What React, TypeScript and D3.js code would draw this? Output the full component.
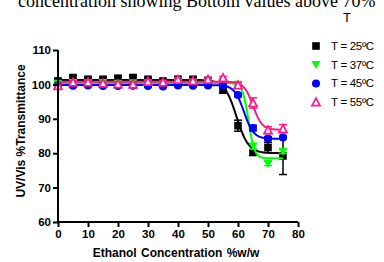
import React, { useRef, useEffect } from "react";
import * as d3 from "d3";

// ethanol concentration (%w/w)
const concentrations = [0, 5, 10, 15, 20, 25, 30, 35, 40, 45, 50, 55, 60, 65, 70, 75];

// measured % transmittance per temperature
const t25 = [101, 102, 101.5, 101.5, 101.8, 102, 101.5, 101, 101.5, 101.5, 101.2, 98.3, 88, 80.2, 81.7, 79.2];
const t25err = [0.5, 0.5, 0.4, 0.4, 0.5, 0.6, 0.4, 0.4, 0.5, 0.5, 0.4, 0.6, 1.6, 0.8, 1.5, 5.4];
const t37 = [100.3, 100.5, 100.4, 100.5, 100.3, 100.4, 100.5, 100.3, 100.6, 100.4, 100.5, 100.5, 100, 82, 77, 80.5];
const t37err = [0.3, 0.3, 0.3, 0.3, 0.3, 0.3, 0.3, 0.3, 0.3, 0.3, 0.3, 0.3, 0.5, 0.8, 0.6, 0.6];
const t45 = [99.8, 99.6, 99.7, 99.5, 99.5, 99.6, 99.5, 99.4, 99.7, 99.6, 99.7, 99.7, 96.9, 87.3, 84.3, 84.6];
const t45err = [0.3, 0.3, 0.3, 0.3, 0.3, 0.3, 0.3, 0.3, 0.3, 0.3, 0.3, 0.3, 0.5, 0.8, 0.5, 0.4];
const t55 = [99.6, 100.6, 100.6, 100.3, 100.1, 100, 100.8, 100.6, 101.4, 101, 101.4, 101.9, 99.8, 94.6, 86.7, 87.1];
const t55err = [0.4, 0.5, 0.5, 0.5, 0.5, 0.5, 0.5, 0.5, 0.5, 0.5, 0.5, 0.4, 0.8, 1.5, 1, 1.2];

// sigmoidal fit parameters: top, bottom, midpoint, slope
const fitTop = [101.3, 100.4, 99.8, 100.8];
const fitBottom = [80, 78.5, 84.2, 86.8];
const fitMid = [59.5, 63.5, 62, 65];
const fitSlope = [2, 1, 1.6, 1.5];

const legendLabels = ["T = 25ºC", "T = 37ºC", "T = 45ºC", "T = 55ºC"];
const xTicks = [0, 10, 20, 30, 40, 50, 60, 70, 80];
const yTicks = [60, 70, 80, 90, 100, 110];

const colors = ["#000000", "#00ff00", "#0000ff", "#ff1a8c"];
const symbols = ["square", "down", "circle", "up"];

const App = () => {
  const svgRef = useRef<SVGSVGElement>(null);

  useEffect(() => {
    const svg = d3.select(svgRef.current);
    svg.selectAll("*").remove();

    const x = d3.scaleLinear().domain([0, 80]).range([58, 298]);
    const y = d3.scaleLinear().domain([60, 110]).range([222, 50]);

    const font = "Arial, 'Liberation Sans', sans-serif";

    // caption cut off at the top
    svg.append("text")
      .attr("x", 18).attr("y", 7)
      .attr("font-family", "'Liberation Serif', 'Times New Roman', serif")
      .attr("font-size", 18)
      .text("concentration showing Bottom values above 70%");

    const series = [
      { vals: t25, err: t25err },
      { vals: t37, err: t37err },
      { vals: t45, err: t45err },
      { vals: t55, err: t55err },
    ];

    const drawMarker = (g: any, kind: string, cx: number, cy: number, color: string) => {
      if (kind === "square") {
        g.append("rect").attr("x", cx - 3.8).attr("y", cy - 3.8).attr("width", 7.6).attr("height", 7.6).attr("fill", color);
      } else if (kind === "circle") {
        g.append("circle").attr("cx", cx).attr("cy", cy).attr("r", 4).attr("fill", color);
      } else if (kind === "down") {
        g.append("path").attr("d", `M${cx - 4.5},${cy - 3.7}L${cx + 4.5},${cy - 3.7}L${cx},${cy + 4.3}Z`).attr("fill", color);
      } else {
        g.append("path").attr("d", `M${cx - 4},${cy + 3.5}L${cx + 4},${cy + 3.5}L${cx},${cy - 4}Z`)
          .attr("fill", "white").attr("stroke", color).attr("stroke-width", 1.7);
      }
    };

    const line = d3.line<number>().x((d) => x(d[0])).y((d) => y(d[1]));
    const fineX = d3.range(0, 75.01, 0.25);

    series.forEach((s, i) => {
      const g = svg.append("g");
      // fitted curve
      const curve = fineX.map((c) => [
        c,
        fitBottom[i] + (fitTop[i] - fitBottom[i]) / (1 + Math.exp((c - fitMid[i]) / fitSlope[i])),
      ]);
      g.append("path")
        .attr("d", line(curve as any))
        .attr("fill", "none")
        .attr("stroke", colors[i])
        .attr("stroke-width", 2);

      // error bars
      concentrations.forEach((c, j) => {
        const cx = x(c);
        const y1 = y(s.vals[j] - s.err[j]);
        const y2 = y(s.vals[j] + s.err[j]);
        g.append("line").attr("x1", cx).attr("x2", cx).attr("y1", y1).attr("y2", y2)
          .attr("stroke", colors[i]).attr("stroke-width", 1.5);
        [y1, y2].forEach((yy) => {
          g.append("line").attr("x1", cx - 4).attr("x2", cx + 4).attr("y1", yy).attr("y2", yy)
            .attr("stroke", colors[i]).attr("stroke-width", 1.5);
        });
      });

      concentrations.forEach((c, j) => drawMarker(g, symbols[i], x(c), y(s.vals[j]), colors[i]));
    });

    // axes
    const xAxis = svg.append("g")
      .attr("transform", "translate(0,222)")
      .call(d3.axisBottom(x).tickValues(xTicks).tickSize(5).tickPadding(3));
    const yAxis = svg.append("g")
      .attr("transform", "translate(58,0)")
      .call(d3.axisLeft(y).tickValues(yTicks).tickSize(5).tickPadding(2));
    [xAxis, yAxis].forEach((a) => {
      a.select(".domain").attr("stroke-width", 2).attr("stroke", "#000");
      a.selectAll(".tick line").attr("stroke-width", 2).attr("stroke", "#000");
      a.selectAll(".tick text")
        .attr("font-family", font).attr("font-size", 11.5).attr("font-weight", "bold").attr("fill", "#000");
    });
    xAxis.select(".domain").attr("d", `M${x(0)},0H${x(80)}`);
    yAxis.select(".domain").attr("d", `M0,${y(60)}V${y(110)}`);

    svg.append("text")
      .attr("x", 176).attr("y", 257)
      .attr("text-anchor", "middle")
      .attr("font-family", font).attr("font-size", 12).attr("font-weight", "bold")
      .attr("word-spacing", 1)
      .text("Ethanol Concentration %w/w");

    svg.append("text")
      .attr("transform", "translate(25,131) rotate(-90)")
      .attr("text-anchor", "middle")
      .attr("font-family", font).attr("font-size", 12).attr("font-weight", "bold")
      .text("UV/Vis %Transmittance");

    // legend
    svg.append("text")
      .attr("x", 347).attr("y", 22)
      .attr("text-anchor", "middle")
      .attr("font-family", font).attr("font-size", 13)
      .text("T");
    legendLabels.forEach((lab, i) => {
      const ly = 46 + i * 18.7;
      const g = svg.append("g");
      drawMarker(g, symbols[i], 316, ly, colors[i]);
      g.append("text")
        .attr("x", 331).attr("y", ly + 4)
        .attr("font-family", font).attr("font-size", 11.5)
        .attr("letter-spacing", -0.3)
        .text(lab);
    });
  }, []);

  return (
    <svg
      ref={svgRef}
      width={384}
      height={262}
      style={{ position: "absolute", left: 0, top: 0, background: "white" }}
    />
  );
};

export default App;
